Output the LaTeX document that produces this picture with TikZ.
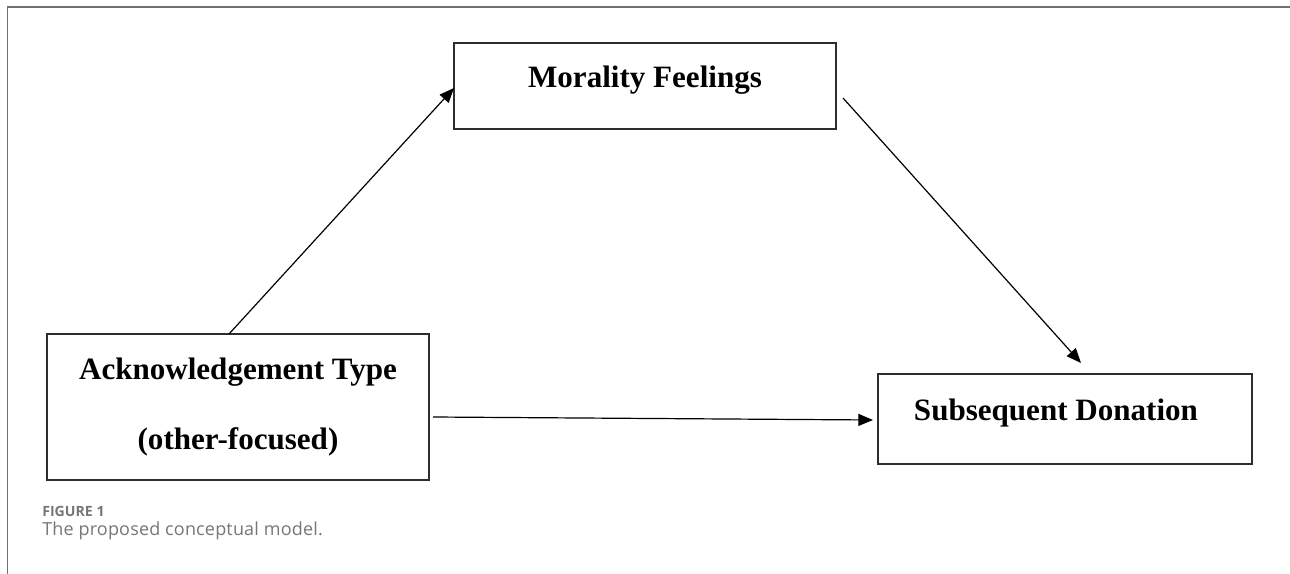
\documentclass[tikz,border=0pt]{standalone}
\usepackage{fontspec}
\setmainfont{Liberation Serif}
\newfontfamily\capfont{Open Sans}
\newfontfamily\capwidefont[LetterSpace=1.0]{Open Sans}
\usepackage{xcolor}
\usetikzlibrary{arrows.meta, positioning}
\definecolor{capgray}{RGB}{118,118,118}
\definecolor{framegray}{RGB}{112,112,112}
\definecolor{boxline}{RGB}{45,45,45}

\begin{document}
\begin{tikzpicture}[
    x=0.75pt, y=-0.75pt,
    box/.style={draw=boxline, line width=1.1pt, rectangle, inner sep=0pt, outer sep=0pt, minimum width=286.5pt, font=\fontsize{23.3pt}{52.5pt}\selectfont\bfseries},
    arrow/.style={-{Triangle[length=11pt, width=9pt]}, line width=0.9pt, draw=black},
    figframe/.style={draw=framegray, line width=1.4pt},
    captext/.style={anchor=base west, inner sep=0pt, text=capgray}
]
\useasboundingbox (0,0) rectangle (1290,574);
\draw[figframe] (7.5,574) -- (7.5,7) -- (1290,7);

\node[box, align=center, minimum height=109.5pt] (ack) at (238,407) {Acknowledgement Type\\(other-focused)};
\node[box, minimum height=64.5pt, text height=16.5pt, text depth=13.5pt, above right=153.75pt and 18.75pt of ack] (mor) {Morality Feelings};
\node[box, minimum width=280.5pt, minimum height=67.5pt, text height=16.5pt, text depth=15pt, below right=183.75pt and 31.5pt of mor] (don) {Subsequent Donation\kern13.5pt};

\draw[arrow] ([xshift=-6.75pt]ack.north) -- ([yshift=-1.5pt]mor.west);
\draw[arrow] ([xshift=3pt, yshift=-7.5pt]ack.east) -- ([xshift=-3.75pt, yshift=-0.75pt]don.west);
\draw[arrow] ([xshift=5.25pt, yshift=-9pt]mor.east) -- ([xshift=12pt, yshift=8.25pt]don.north);

\node[captext, font=\capfont\bfseries\fontsize{10.6pt}{12pt}\selectfont] (figlabel) at (42,516) {FIGURE 1};
\node[captext, font=\capwidefont\fontsize{13.5pt}{16pt}\selectfont] (caption) at (42,535) {The proposed conceptual model.};
\end{tikzpicture}
\end{document}
